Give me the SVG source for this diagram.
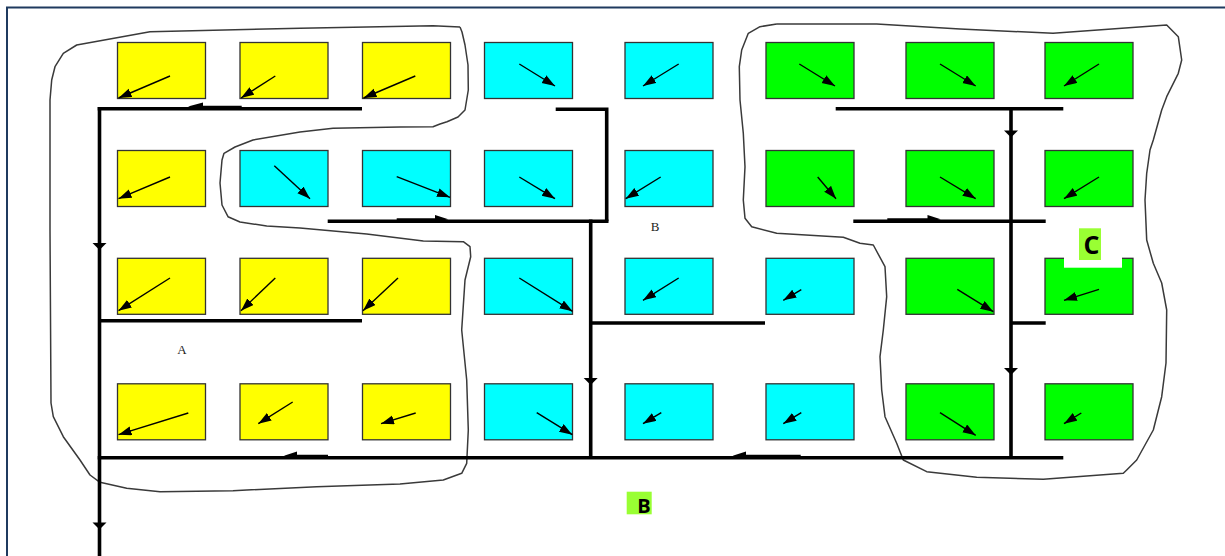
<svg xmlns="http://www.w3.org/2000/svg" width="1225" height="556" viewBox="0 0 1225 556">
<style>
.box{stroke:#333;stroke-width:1.3}
.y{fill:#ffff00}.c{fill:#00ffff}.g{fill:#00ff00}
.ar{stroke:#000;stroke-width:1.4;fill:none;marker-end:url(#ah)}
.pipe{stroke:#000;stroke-width:3.6;fill:none;stroke-linecap:butt}
.blob{stroke:#3a3a3a;stroke-width:1.5;fill:none;stroke-linejoin:round}
.tri{fill:#000}
.ser{font-family:"Liberation Serif",serif;font-size:13px;fill:#222}
.lab{font-family:"Open Sans",sans-serif;font-weight:bold;fill:#000}
</style>
<defs>
<marker id="ah" markerUnits="userSpaceOnUse" markerWidth="14" markerHeight="10" refX="13" refY="4.5" orient="auto">
<path d="M0,0 L13,4.5 L0,9 z" fill="#000"/>
</marker>
</defs>
<rect width="1225" height="556" fill="#fff"/>
<path d="M7,556 L7,7.5 L1225,7.5" stroke="#1f3a5f" stroke-width="2" fill="none"/>

<g id="blobs">
<polyline id="blobA" class="blob" points="460,27 433,25.7 300,28.3 150,31.7 76.7,45 63.3,53.3 55,66.7 51.7,80 50,100 50,230 51,403 53.3,416.7 63.3,436.7 80,460 90,475 100,482.3 126.7,488.3 160,491.7 233,490.7 316.7,486.7 400,484 443.3,480 461.7,473.3 466.7,463.3 468.3,430 466.7,380 461.7,330 465,280 470.7,256.7 470,246.7 463.3,241.7 423.3,241 366.7,234 300,228 266.7,226 240,222 228,216.7 222,205 220,183 222,160 224,153.3 235,147 253,140 300,132 333,128.3 400,127 433,126.7 440,124 447,121.7 458,117 465,110 468.3,90 468,65 465,45 462,32 460,27"/>
<polyline id="blobC" class="blob" points="776.7,24 876.7,24 960,29 1053,33.3 1166.7,25 1178.3,36.7 1181.7,60 1178.3,73.3 1166.7,96.7 1161.7,110 1153.3,140 1150,150 1146.7,173.3 1145,200 1146.7,240 1153.3,263.3 1161.7,283 1166.7,310 1166,363 1161.7,396.7 1153.3,430 1136.7,460 1126.7,470 1123.3,473.3 1043.3,479.3 976.7,477.3 926.7,471.7 903.3,460 896.7,443.3 885,416.7 881.7,390 880,356.7 883.3,330 886.7,296.7 885,266.7 873.3,245 860,243.3 843.3,237.3 776.7,233.3 751.7,226.7 745,218.3 743.3,200 745,166.7 743.3,133.3 740,100 739.3,66.7 741.7,50 748.3,33.3 760,26.7 776.7,24"/>
</g>

<g id="connectors">
<path class="pipe" d="M99.5,107 V556"/>
<path class="pipe" d="M97.7,108.7 H362"/>
<path class="pipe" d="M99.5,320.7 H362"/>
<path class="pipe" d="M97.7,457.7 H1063.3"/>
<path class="pipe" d="M555.7,109.3 H606.7 V221.3"/>
<path class="pipe" d="M327.7,221.3 H608.5"/>
<path class="pipe" d="M590.7,219.5 V457.7"/>
<path class="pipe" d="M590.7,323 H765"/>
<path class="pipe" d="M835.7,108.7 H1063.3"/>
<path class="pipe" d="M1011,108.7 V457.7"/>
<path class="pipe" d="M853.3,221.3 H1045.7"/>
<path class="pipe" d="M1011,323 H1045.7"/>
<path d="M200,106.7 H241.7" stroke="#000" stroke-width="2"/>
<polygon class="tri" points="188,106.5 203,102.5 203,110"/>
<path d="M396.7,219.3 H438" stroke="#000" stroke-width="2"/>
<polygon class="tri" points="448.3,219.3 435,215 435,222.5"/>
<path d="M887.3,219.3 H930" stroke="#000" stroke-width="2"/>
<polygon class="tri" points="940.7,219.3 927.5,215 927.5,222.5"/>
<path d="M295,455.7 H328" stroke="#000" stroke-width="2"/>
<polygon class="tri" points="284,455.7 297,451.5 297,459"/>
<path d="M744,455.7 H800.7" stroke="#000" stroke-width="2"/>
<polygon class="tri" points="732.7,455.7 746,451.5 746,459"/>
<polygon class="tri" points="92.5,243 106.5,243 99.5,250"/>
<polygon class="tri" points="92.5,522.5 106.5,522.5 99.5,529.5"/>
<polygon class="tri" points="583.7,378 597.7,378 590.7,385"/>
<polygon class="tri" points="1004,130.5 1018,130.5 1011,137.5"/>
<polygon class="tri" points="1004,368 1018,368 1011,375"/>
</g>

<g id="row1">
<g id="n11"><rect class="box y" x="117.5" y="42.5" width="88" height="56"/><line class="ar" x1="170" y1="76" x2="118.5" y2="98"/></g>
<g id="n12"><rect class="box y" x="240" y="42.5" width="88" height="56"/><line class="ar" x1="275.3" y1="76" x2="241" y2="98"/></g>
<g id="n13"><rect class="box y" x="362.5" y="42.5" width="88" height="56"/><line class="ar" x1="415.3" y1="76" x2="363.5" y2="98"/></g>
<g id="n14"><rect class="box c" x="484.5" y="42.5" width="88" height="56"/><line class="ar" x1="519.3" y1="64" x2="555" y2="86"/></g>
<g id="n15"><rect class="box c" x="625" y="42.5" width="88" height="56"/><line class="ar" x1="678.7" y1="64" x2="643" y2="86"/></g>
<g id="n16"><rect class="box g" x="766" y="42.5" width="88" height="56"/><line class="ar" x1="799.3" y1="64" x2="835" y2="86"/></g>
<g id="n17"><rect class="box g" x="906" y="42.5" width="88" height="56"/><line class="ar" x1="940" y1="64" x2="975.7" y2="86"/></g>
<g id="n18"><rect class="box g" x="1045" y="42.5" width="88" height="56"/><line class="ar" x1="1099" y1="64" x2="1064" y2="86"/></g>
</g>

<g id="row2">
<g id="n21"><rect class="box y" x="117.5" y="150.5" width="88" height="56"/><line class="ar" x1="170" y1="177" x2="118.5" y2="198.7"/></g>
<g id="n22"><rect class="box c" x="240" y="150.5" width="88" height="56"/><line class="ar" x1="274.3" y1="165.7" x2="310" y2="198.7"/></g>
<g id="n23"><rect class="box c" x="362.5" y="150.5" width="88" height="56"/><line class="ar" x1="396.7" y1="176.7" x2="450" y2="197.3"/></g>
<g id="n24"><rect class="box c" x="484.5" y="150.5" width="88" height="56"/><line class="ar" x1="519.3" y1="177" x2="555" y2="198.7"/></g>
<g id="n25"><rect class="box c" x="625" y="150.5" width="88" height="56"/><line class="ar" x1="660.7" y1="177" x2="625.7" y2="198.7"/></g>
<g id="n26"><rect class="box g" x="766" y="150.5" width="88" height="56"/><line class="ar" x1="817.7" y1="177" x2="836" y2="198.7"/></g>
<g id="n27"><rect class="box g" x="906" y="150.5" width="88" height="56"/><line class="ar" x1="940" y1="177" x2="975.7" y2="198.7"/></g>
<g id="n28"><rect class="box g" x="1045" y="150.5" width="88" height="56"/><line class="ar" x1="1099" y1="177" x2="1064" y2="198.7"/></g>
</g>

<g id="row3">
<g id="n31"><rect class="box y" x="117.5" y="258.3" width="88" height="56"/><line class="ar" x1="170" y1="278" x2="118.5" y2="310.7"/></g>
<g id="n32"><rect class="box y" x="240" y="258.3" width="88" height="56"/><line class="ar" x1="275.3" y1="278" x2="241" y2="310.7"/></g>
<g id="n33"><rect class="box y" x="362.5" y="258.3" width="88" height="56"/><line class="ar" x1="398" y1="278" x2="363" y2="310.7"/></g>
<g id="n34"><rect class="box c" x="484.5" y="258.3" width="88" height="56"/><line class="ar" x1="519.3" y1="278" x2="572.5" y2="311.3"/></g>
<g id="n35"><rect class="box c" x="625" y="258.3" width="88" height="56"/><line class="ar" x1="678.7" y1="278" x2="643" y2="300.3"/></g>
<g id="n36"><rect class="box c" x="766" y="258.3" width="88" height="56"/><line class="ar" x1="801.3" y1="289.7" x2="783.3" y2="300.3"/></g>
<g id="n37"><rect class="box g" x="906" y="258.3" width="88" height="56"/><line class="ar" x1="957.3" y1="289.3" x2="993.3" y2="311.7"/></g>
<g id="n38"><rect class="box g" x="1045" y="258.3" width="88" height="56"/><line class="ar" x1="1099" y1="289.3" x2="1064" y2="300.3"/></g>
</g>

<g id="row4">
<g id="n41"><rect class="box y" x="117.5" y="383.8" width="88" height="56"/><line class="ar" x1="188.3" y1="413" x2="118.5" y2="434.7"/></g>
<g id="n42"><rect class="box y" x="240" y="383.8" width="88" height="56"/><line class="ar" x1="292.7" y1="402" x2="258.3" y2="423.7"/></g>
<g id="n43"><rect class="box y" x="362.5" y="383.8" width="88" height="56"/><line class="ar" x1="415.7" y1="413" x2="381" y2="423.7"/></g>
<g id="n44"><rect class="box c" x="484.5" y="383.8" width="88" height="56"/><line class="ar" x1="536.7" y1="412.7" x2="572.3" y2="434.7"/></g>
<g id="n45"><rect class="box c" x="625" y="383.8" width="88" height="56"/><line class="ar" x1="661.3" y1="412.7" x2="643" y2="423.7"/></g>
<g id="n46"><rect class="box c" x="766" y="383.8" width="88" height="56"/><line class="ar" x1="801.3" y1="412.7" x2="783.3" y2="423.7"/></g>
<g id="n47"><rect class="box g" x="906" y="383.8" width="88" height="56"/><line class="ar" x1="940" y1="412.7" x2="975.7" y2="435.3"/></g>
<g id="n48"><rect class="box g" x="1045" y="383.8" width="88" height="56"/><line class="ar" x1="1081.3" y1="413" x2="1064" y2="423.7"/></g>
</g>

<g id="labels">
<text class="ser" x="182" y="354" text-anchor="middle">A</text>
<text class="ser" x="655" y="231" text-anchor="middle">B</text>
<g id="labelB"><rect x="626.7" y="491.7" width="25" height="22.6" fill="#99ff33"/><text class="lab" x="637.3" y="512.7" font-size="20">B</text></g>
<g id="labelC"><rect x="1064" y="229" width="58" height="38.7" fill="#fff"/><rect x="1079" y="228.3" width="22" height="31.7" fill="#99ff33"/><text class="lab" x="1083.5" y="253.5" font-size="25">C</text></g>
</g>
</svg>
